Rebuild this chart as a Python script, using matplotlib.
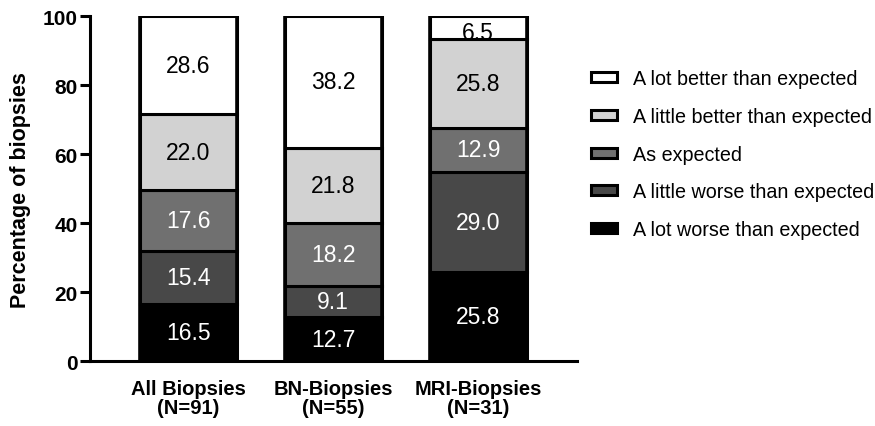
import numpy as np
import matplotlib.pyplot as plt
from matplotlib.patches import Patch

plt.rcParams['font.family'] = ['Liberation Sans', 'DejaVu Sans']

# data (percent of biopsies), stacked bottom -> top
groups = ['All Biopsies\n(N=91)', 'BN-Biopsies\n(N=55)', 'MRI-Biopsies\n(N=31)']
categories = ['A lot worse than expected', 'A little worse than expected', 'As expected',
              'A little better than expected', 'A lot better than expected']
lot_worse = [16.5, 12.7, 25.8]
little_worse = [15.4, 9.1, 29.0]
as_expected = [17.6, 18.2, 12.9]
little_better = [22.0, 21.8, 25.8]
lot_better = [28.6, 38.2, 6.5]

series = [lot_worse, little_worse, as_expected, little_better, lot_better]
colors = ['#000000', '#484848', '#707070', '#d2d2d2', '#ffffff']
txt_colors = ['white', 'white', 'white', 'black', 'black']

fig = plt.figure(figsize=(8.75, 4.27), dpi=100)
ax = fig.add_axes([0.1029, 0.152, 0.556, 0.808])

x = np.arange(len(groups))
bottom = np.zeros(len(groups))
for vals, c, tc in zip(series, colors, txt_colors):
    vals = np.array(vals)
    ax.bar(x, vals, 0.67, bottom=bottom, color=c, edgecolor='black', linewidth=2.2, zorder=2)
    for xi, b, v in zip(x, bottom, vals):
        yc = b + v / 2
        if v < 8:
            yc = b + v / 2 - 1.6
        ax.text(xi, yc, f'{v:.1f}', ha='center', va='center', color=tc, fontsize=16.5, zorder=3)
    bottom += vals

# outline each full bar
ax.bar(x, bottom, 0.67, color='none', edgecolor='black', linewidth=2.6, zorder=4)

ax.set_xlim(-0.68, 2.68)
ax.set_ylim(0, 100)
ax.set_yticks([0, 20, 40, 60, 80, 100])
ax.set_xticks(x)
ax.set_xticklabels(groups, fontweight='bold', fontsize=14.5, linespacing=1.0)
ax.set_ylabel('Percentage of biopsies', fontweight='bold', fontsize=15.5, labelpad=8)
for lab in ax.get_yticklabels():
    lab.set_fontweight('bold')
    lab.set_fontsize(15)
ax.tick_params(axis='y', width=2.2, length=7, pad=2)
ax.tick_params(axis='x', length=0, pad=13)
for s in ['top', 'right']:
    ax.spines[s].set_visible(False)
for s in ['left', 'bottom']:
    ax.spines[s].set_linewidth(2.2)

handles = [Patch(facecolor=c, edgecolor='black', linewidth=2.2) for c in colors]
fig.legend(handles[::-1], categories[::-1], loc='upper left', bbox_to_anchor=(0.655, 0.877),
           frameon=False, fontsize=14.2, handlelength=1.3, handleheight=0.4,
           labelspacing=0.95, handletextpad=0.85)

fig.savefig('out.png', dpi=100)
